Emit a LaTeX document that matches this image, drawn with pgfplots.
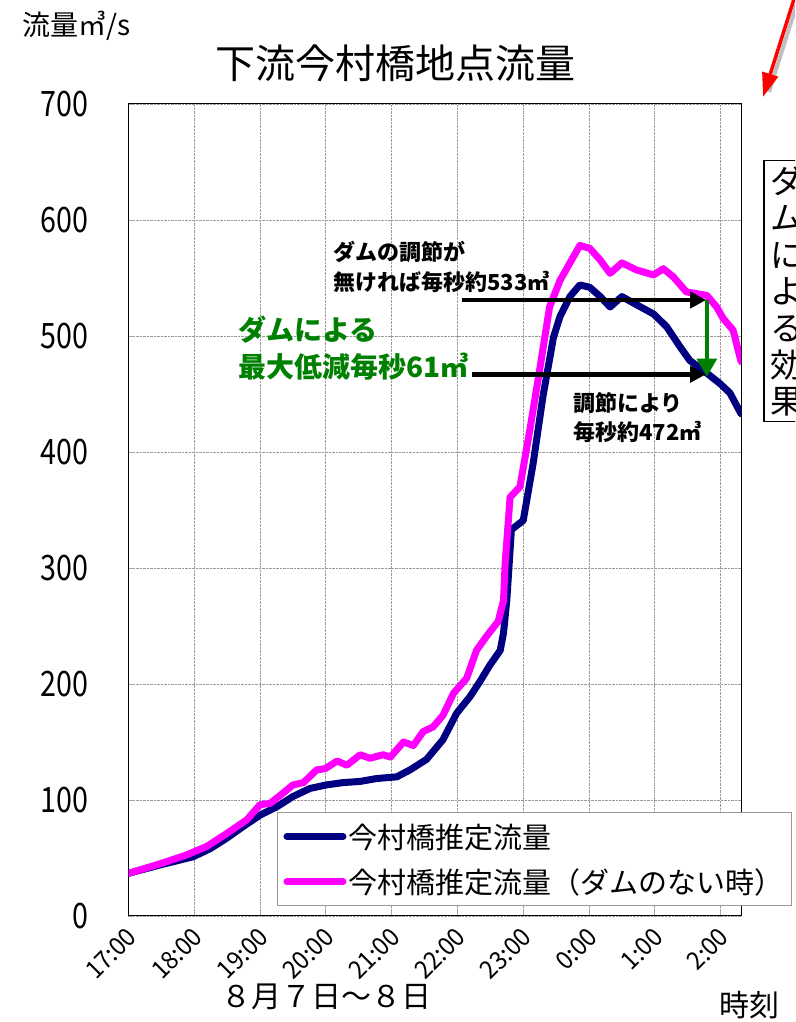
\documentclass[border=0pt]{standalone}
\usepackage{fontspec}
\setmainfont{Noto Sans CJK JP}
\usepackage{graphicx}
\usepackage{pgfplots}
\pgfplotsset{compat=1.18}
\usetikzlibrary{arrows.meta}
\definecolor{navyline}{RGB}{0,0,128}
\definecolor{pinkline}{RGB}{255,0,255}
\definecolor{dgreen}{RGB}{0,128,0}
\newcommand\sy[1]{\scalebox{0.82}[1]{#1}}
\newcommand\sx[1]{\scalebox{0.95}[1]{#1}}

\pgfplotstableread{
h v
0.00 36.8
0.48 44
0.98 51
1.24 58
1.49 67
1.74 77
2.00 87
2.25 94
2.50 103
2.76 110
3.01 113
3.26 115
3.52 116
3.77 118.5
4.08 120
4.28 126
4.53 135
4.78 152
4.99 175
5.19 189
5.34 202
5.49 216
5.65 229
5.70 244
5.75 272
5.82 333
6.00 341
6.15 390
6.30 448
6.46 499
6.56 517
6.71 534
6.86 544
7.01 542
7.17 534
7.32 525
7.50 534
7.72 527
7.98 519
8.18 508
8.38 491
8.53 479
8.79 468
8.99 459
9.14 451
9.31 433
}\navytab

\pgfplotstableread{
h v
0.00 36.8
0.48 45
0.88 52.6
1.19 60
1.49 71
1.80 83
2.00 96
2.15 97
2.35 106
2.50 113
2.66 115
2.86 126
2.99 127
3.17 133.6
3.32 130
3.52 139
3.67 136
3.87 139
3.98 137
4.18 150
4.33 147
4.48 159
4.63 163
4.78 173
4.94 192
5.14 205
5.29 229
5.44 241
5.62 254
5.70 272
5.725 304
5.80 361
5.95 370
6.10 419
6.25 471
6.40 525
6.56 548
6.71 563
6.86 578
7.01 575.6
7.17 565.5
7.32 554
7.50 563
7.72 557
7.98 552.6
8.13 558
8.28 551
8.48 538
8.79 535
8.94 525
9.04 515
9.19 505
9.31 478
}\pinktab

\begin{document}
\begin{tikzpicture}[x=1pt,y=1pt]
\useasboundingbox (0,0) rectangle (795,1022);
\clip (0,0) rectangle (795,1022);
\fill[white] (0,0) rectangle (795,1022);
\begin{axis}[
  at={(128.5pt,106pt)}, anchor=south west,
  scale only axis, width=612.5pt, height=812pt,
  xmin=0, xmax=9.31, ymin=0, ymax=700,
  xtick={0,1,2,3,4,5,6,7,8,9},
  xticklabels={\sx{17:00},\sx{18:00},\sx{19:00},\sx{20:00},\sx{21:00},\sx{22:00},\sx{23:00},\sx{0:00},\sx{1:00},\sx{2:00}},
  ytick={0,100,200,300,400,500,600,700},
  yticklabels={\sy{0},\sy{100},\sy{200},\sy{300},\sy{400},\sy{500},\sy{600},\sy{700}},
  xtick pos=left, ytick pos=left,
  major tick length=6pt,
  tick style={gray!70, line width=0.8pt},
  xticklabel style={font=\fontsize{25}{30}\selectfont, rotate=45, anchor=east, inner sep=0pt, xshift=5pt},
  xticklabel shift=20pt,
  yticklabel style={font=\fontsize{35}{40}\selectfont, inner sep=0pt, xshift=-40pt, anchor=east},
  grid=major,
  major grid style={gray!80, densely dotted, line width=0.9pt},
  axis line style={black, line width=1pt},
  legend style={at={(0.2424,0.128)}, anchor=north west, draw=gray!80, line width=1pt,
    font=\fontsize{29}{34}\selectfont, inner xsep=6pt, inner ysep=9pt, row sep=15pt,
    cells={anchor=west}},
  legend image code/.code={\draw[#1,line cap=round] (0pt,0pt) -- (56pt,0pt);},
  legend cell align=left,
]
\addplot[navyline, line width=7pt, line join=round, line cap=round] table[x=h,y=v] {\navytab};
\addlegendentry{今村橋推定流量}
\addplot[pinkline, line width=7pt, line join=round, line cap=round] table[x=h,y=v] {\pinktab};
\addlegendentry{今村橋推定流量（ダムのない時）\hspace{30pt}}
\draw[black, line width=4.5pt, -{Triangle[length=16pt,width=16pt]}] (axis cs:5.07,531) -- (axis cs:8.78,531);
\draw[black, line width=4.5pt, -{Triangle[length=16pt,width=16pt]}] (axis cs:5.22,467) -- (axis cs:8.78,467);
\draw[dgreen, line width=3.5pt, -{Triangle[length=18pt,width=20pt]}] (axis cs:8.79,531) -- (axis cs:8.79,465);
\end{axis}

\node[font=\fontsize{40}{48}\selectfont] at (395,959) {下流今村橋地点流量};
\node[anchor=west, font=\fontsize{28}{32}\selectfont, inner sep=0pt] at (22,996) {流量㎥/s};
\node[font=\fontsize{30}{36}\selectfont] at (326,25) {８月７日～８日};
\node[font=\fontsize{30}{36}\selectfont] at (749,17) {時刻};

\node[anchor=west, inner sep=0pt, font=\bfseries\fontsize{22}{26}\selectfont] at (333,770) {ダムの調節が};
\node[anchor=west, inner sep=0pt, font=\bfseries\fontsize{22}{26}\selectfont] at (333,740) {無ければ毎秒約533㎥};
\node[anchor=west, inner sep=0pt, text=dgreen, font=\bfseries\fontsize{28}{32}\selectfont] at (238,692) {ダムによる};
\node[anchor=west, inner sep=0pt, text=dgreen, font=\bfseries\fontsize{28}{32}\selectfont] at (238,655) {最大低減毎秒61㎥};
\node[anchor=west, inner sep=0pt, font=\bfseries\fontsize{22}{26}\selectfont] at (573,619) {調節により};
\node[anchor=west, inner sep=0pt, font=\bfseries\fontsize{22}{26}\selectfont] at (573,590) {毎秒約472㎥};

\node[draw=black, line width=1.5pt, anchor=north west, inner xsep=7pt, inner ysep=5pt, align=left,
  text width=50pt, font=\fontsize{33}{36.7}\selectfont] at (763,862) {ダ\\ム\\に\\よ\\る\\効\\果};

\draw[black!25, line width=4pt] (798,1022) -- (769,930);
\draw[red, line width=3.5pt, -{Triangle[length=24pt,width=16pt]}] (795,1026) -- (763,925);
\end{tikzpicture}
\end{document}
